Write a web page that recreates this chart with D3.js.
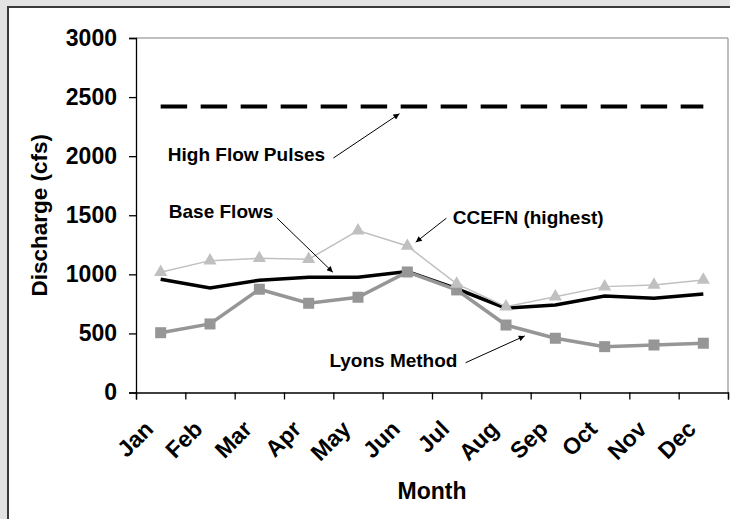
<!DOCTYPE html>
<html>
<head>
<meta charset="utf-8">
<script src="https://cdn.jsdelivr.net/npm/d3@7"></script>
<style>
  body { margin: 0; background: #e3e3e3; }
  text { font-family: Arial, "Liberation Sans", sans-serif; font-weight: bold; }
</style>
</head>
<body>
<script>
// Data
const months = ["Jan", "Feb", "Mar", "Apr", "May", "Jun", "Jul", "Aug", "Sep", "Oct", "Nov", "Dec"];
const baseFlows = [958, 885, 950, 975, 975, 1023, 878, 713, 741, 817, 797, 834];
const ccefnHighest = [1018, 1116, 1136, 1128, 1370, 1240, 919, 727, 811, 896, 910, 953];
const lyonsMethod = [506, 580, 874, 755, 806, 1020, 868, 571, 459, 388, 402, 417];
const highFlowPulses = 2420;
const yTicks = [0, 500, 1000, 1500, 2000, 2500, 3000];

// Callouts, placed in data units (month position 0..12, discharge)
const callouts = [
    { text: "High Flow Pulses", tx: 0.645, ty: 1955, from: [4.00, 1984], to: [5.34, 2359] },
    { text: "Base Flows", tx: 0.665, ty: 1475, from: [2.86, 1475], to: [3.99, 1018] },
    { text: "CCEFN (highest)", tx: 6.42, ty: 1425, from: [6.29, 1475], to: [5.67, 1272] },
    { text: "Lyons Method", tx: 3.92, ty: 219, from: [6.68, 252], to: [7.88, 479] }
];

const width = 730, height = 519;
const plotLeft = 136, plotRight = 728, plotTop = 38, plotBottom = 392.5;

const svg = d3.select("body")
    .append("svg")
    .attr("width", width)
    .attr("height", height)
    .style("display", "block");

// outer chart frame
svg.append("rect")
    .attr("x", 8).attr("y", 7)
    .attr("width", 740).attr("height", 530)
    .attr("fill", "white")
    .attr("stroke", "#3a3a3a")
    .attr("stroke-width", 2);

const x = d3.scaleBand().domain(months).range([plotLeft, plotRight]);
const xPos = d3.scaleLinear().domain([0, 12]).range([plotLeft, plotRight]);
const y = d3.scaleLinear().domain([0, 3000]).range([plotBottom, plotTop]);
const cx = (d, i) => x(months[i]) + x.bandwidth() / 2;

// plot frame (top and right)
svg.append("path")
    .attr("d", `M${plotLeft},${plotTop}H${plotRight}V${plotBottom}`)
    .attr("fill", "none")
    .attr("stroke", "#808080")
    .attr("stroke-width", 1);

// y axis
const yAxis = svg.append("g")
    .attr("transform", `translate(${plotLeft},0)`)
    .call(d3.axisLeft(y).tickValues(yTicks).tickFormat(d3.format("d")).tickSize(7).tickPadding(12));
yAxis.selectAll("text").attr("font-size", 23).attr("fill", "black").attr("font-family", null);
yAxis.selectAll("line, path").attr("stroke", "black").attr("stroke-width", 1.3);

// x axis: ticks at month boundaries
const xAxis = svg.append("g")
    .attr("transform", `translate(0,${plotBottom})`)
    .call(d3.axisBottom(xPos).tickValues(d3.range(13)).tickSize(7).tickFormat(""));
xAxis.selectAll("line, path").attr("stroke", "black").attr("stroke-width", 1.3);

// month labels rotated
svg.append("g")
    .selectAll("text")
    .data(months)
    .enter()
    .append("text")
    .attr("transform", d => `translate(${x(d) + x.bandwidth() / 2 - 6},${plotBottom + 38}) rotate(-45)`)
    .attr("text-anchor", "end")
    .attr("font-size", 23)
    .text(d => d);

// axis titles
svg.append("text")
    .attr("x", (plotLeft + plotRight) / 2)
    .attr("y", 499)
    .attr("text-anchor", "middle")
    .attr("font-size", 23)
    .text("Month");

svg.append("text")
    .attr("transform", `translate(47,${(plotTop + plotBottom) / 2}) rotate(-90)`)
    .attr("text-anchor", "middle")
    .attr("font-size", 22.5)
    .text("Discharge (cfs)");

// high flow pulses dashed line
svg.append("line")
    .attr("x1", cx(null, 0)).attr("x2", cx(null, 11))
    .attr("y1", y(highFlowPulses)).attr("y2", y(highFlowPulses))
    .attr("stroke", "black")
    .attr("stroke-width", 4)
    .attr("stroke-dasharray", "26.5,13.5");

const line = d3.line().x(cx).y(d => y(d));

// base flows
svg.append("path")
    .datum(baseFlows)
    .attr("d", line)
    .attr("fill", "none")
    .attr("stroke", "black")
    .attr("stroke-width", 3.5);

// lyons method
svg.append("path")
    .datum(lyonsMethod)
    .attr("d", line)
    .attr("fill", "none")
    .attr("stroke", "#969696")
    .attr("stroke-width", 3.5);

svg.selectAll(".sq")
    .data(lyonsMethod)
    .enter()
    .append("rect")
    .attr("class", "sq")
    .attr("x", (d, i) => cx(d, i) - 5.5)
    .attr("y", d => y(d) - 5.5)
    .attr("width", 11).attr("height", 11)
    .attr("fill", "#969696");

// CCEFN (highest)
svg.append("path")
    .datum(ccefnHighest)
    .attr("d", line)
    .attr("fill", "none")
    .attr("stroke", "#c0c0c0")
    .attr("stroke-width", 1.5);

const tri = d3.symbol().type(d3.symbolTriangle).size(75);
svg.selectAll(".tri")
    .data(ccefnHighest)
    .enter()
    .append("path")
    .attr("class", "tri")
    .attr("d", tri)
    .attr("transform", (d, i) => `translate(${cx(d, i)},${y(d)})`)
    .attr("fill", "#c0c0c0");

// arrowhead
svg.append("defs").append("marker")
    .attr("id", "arrow")
    .attr("viewBox", "0 0 10 10")
    .attr("refX", 10).attr("refY", 5)
    .attr("markerWidth", 7).attr("markerHeight", 6)
    .attr("markerUnits", "userSpaceOnUse")
    .attr("orient", "auto")
    .append("path")
    .attr("d", "M0,0L10,5L0,10z")
    .attr("fill", "black");

// callouts
const c = svg.append("g").selectAll("g").data(callouts).enter().append("g");
c.append("text")
    .attr("x", d => xPos(d.tx))
    .attr("y", d => y(d.ty))
    .attr("font-size", 19)
    .text(d => d.text);
c.append("line")
    .attr("x1", d => xPos(d.from[0])).attr("y1", d => y(d.from[1]))
    .attr("x2", d => xPos(d.to[0])).attr("y2", d => y(d.to[1]))
    .attr("stroke", "black")
    .attr("stroke-width", 1)
    .attr("marker-end", "url(#arrow)");
</script>
</body>
</html>
